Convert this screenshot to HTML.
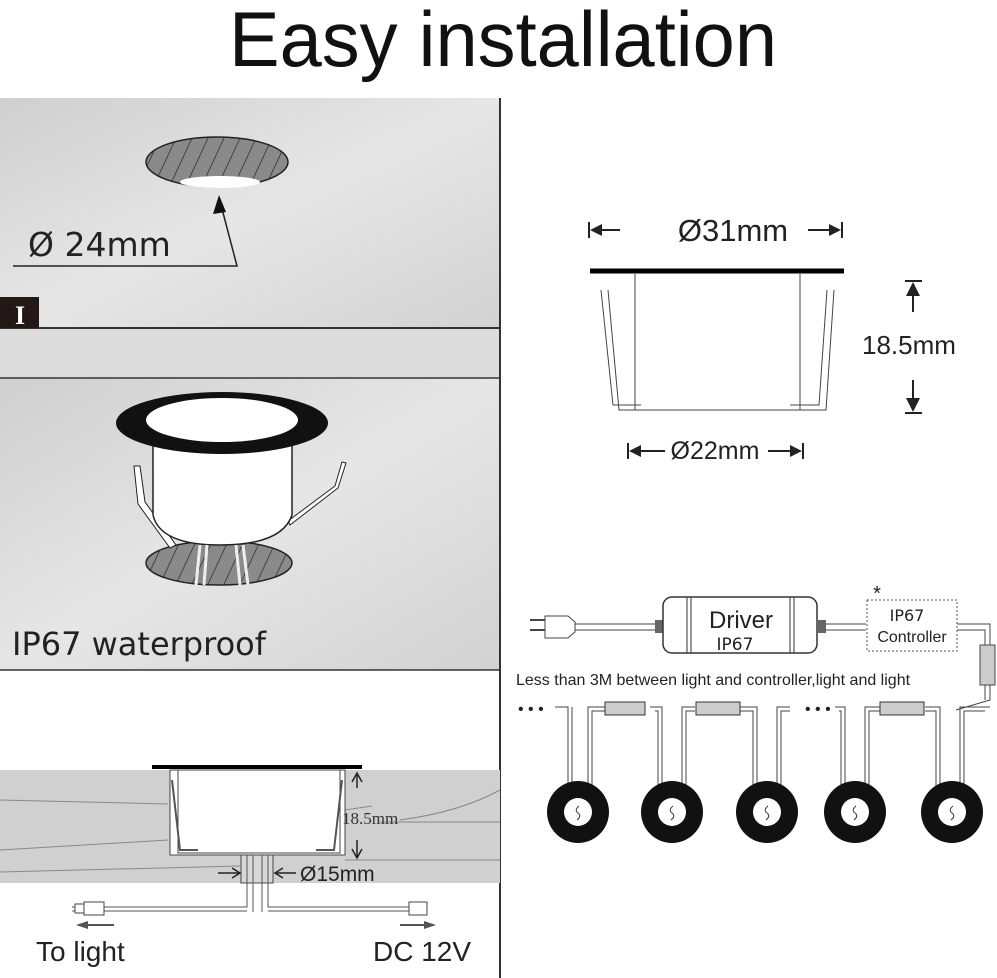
<!DOCTYPE html>
<html><head><meta charset="utf-8"><style>html,body{margin:0;padding:0;background:#fff}svg{display:block}</style></head>
<body>
<svg width="997" height="978" viewBox="0 0 997 978" xmlns="http://www.w3.org/2000/svg">
<defs>
<linearGradient id="g1" x1="0" y1="0" x2="1" y2="1"><stop offset="0" stop-color="#cfcfcf"/><stop offset="0.5" stop-color="#e6e6e6"/><stop offset="1" stop-color="#d2d2d2"/></linearGradient>
<pattern id="hatch" width="16" height="40" patternUnits="userSpaceOnUse" patternTransform="skewX(-25)"><rect width="16" height="40" fill="#8a8a8a"/><line x1="0" y1="0" x2="0" y2="40" stroke="#222" stroke-width="1.5"/></pattern>
</defs>
<text x="503" y="66" font-family="Liberation Sans, sans-serif" font-size="78" text-anchor="middle" textLength="548" lengthAdjust="spacingAndGlyphs" fill="#111">Easy installation</text>
<!-- left panels -->
<rect x="0" y="98" width="500" height="230" fill="url(#g1)"/>
<rect x="0" y="329" width="500" height="49" fill="#dcdcdc"/>
<rect x="0" y="378" width="500" height="292" fill="url(#g1)"/>
<line x1="0" y1="328" x2="500" y2="328" stroke="#333" stroke-width="2"/>
<line x1="0" y1="378" x2="500" y2="378" stroke="#333" stroke-width="1.5"/>
<line x1="0" y1="670" x2="500" y2="670" stroke="#333" stroke-width="1.5"/>
<line x1="500" y1="98" x2="500" y2="978" stroke="#333" stroke-width="2"/>
<!-- hole -->
<ellipse cx="217" cy="162" rx="71" ry="25" fill="url(#hatch)" stroke="#222" stroke-width="1.5"/>
<ellipse cx="220" cy="182" rx="40" ry="6" fill="#fff"/>
<polyline points="13,266 237,266 221,205" fill="none" stroke="#222" stroke-width="1.5"/>
<polygon points="219,195 213,214 226,212" fill="#111"/>
<text x="28" y="256" font-family="DejaVu Sans, sans-serif" font-size="33" fill="#222">Ø 24mm</text>
<rect x="0" y="297" width="39" height="31" fill="#231815"/>
<text x="20" y="324" font-family="Liberation Serif, serif" font-weight="bold" font-size="26" fill="#fff" text-anchor="middle">I</text>
<!-- light -->
<ellipse cx="219" cy="563" rx="73" ry="22" fill="url(#hatch)" stroke="#222" stroke-width="1.5"/>
<path d="M134,466 L140,466 L145,502 L176,545 L170,548 L138,504 Z" fill="#fff" stroke="#222"/>
<path d="M342,462 L346,463 L338,488 L290,525 L288,521 L335,486 Z" fill="#fff" stroke="#222"/>
<path d="M153,445 L153,515 Q160,545 220,545 Q282,545 292,515 L292,445 Z" fill="#fff" stroke="#222" stroke-width="1.5"/>
<path d="M200,545 L196,585 M207,545 L204,585 M236,545 L240,585 M243,545 L248,585" stroke="#eee" stroke-width="3"/>
<ellipse cx="222" cy="423" rx="106" ry="31" fill="#111"/>
<ellipse cx="222" cy="420" rx="76" ry="22" fill="#fff"/>
<text x="12" y="655" font-family="DejaVu Sans, sans-serif" font-size="32" fill="#222">IP67 waterproof</text>
<!-- bottom left -->
<rect x="0" y="770" width="500" height="113" fill="#d0d0d0"/>
<path d="M0,800 L168,804 M0,850 L168,840 M0,872 L240,866 M345,810 L372,806 M400,820 Q460,812 500,790 M380,822 L500,822 M345,860 L500,860" stroke="#888" stroke-width="1" fill="none"/>
<rect x="170" y="770" width="175" height="85" fill="#fff" stroke="#444"/>
<path d="M178,770 L178,853 L340,853 L340,770" fill="none" stroke="#444"/>
<path d="M172,780 L180,850 L198,850" fill="none" stroke="#555" stroke-width="2"/>
<path d="M342,780 L334,850 L316,850" fill="none" stroke="#555" stroke-width="2"/>
<line x1="152" y1="767" x2="362" y2="767" stroke="#000" stroke-width="4"/>
<rect x="241" y="855" width="32" height="28" fill="#d8d8d8" stroke="#444"/>
<path d="M247,855 L247,907 L72,907 M253,855 L253,912 M262,855 L262,912 M268,855 L268,907 L410,907" fill="none" stroke="#555"/>
<path d="M72,911 L247,911 M268,911 L410,911" stroke="#555"/>
<rect x="84" y="902" width="20" height="13" fill="#fff" stroke="#444"/><rect x="75" y="904" width="9" height="9" fill="#fff" stroke="#444"/>
<rect x="409" y="902" width="18" height="13" fill="#fff" stroke="#444"/>
<path d="M78,925 L114,925 M400,925 L434,925" stroke="#555" stroke-width="2"/>
<polygon points="76,925 88,921 88,929" fill="#555"/><polygon points="436,925 424,921 424,929" fill="#555"/>
<path d="M357,775 L357,788 M357,840 L357,858 M218,873 L240,873 M275,873 L296,873" stroke="#222" stroke-width="1.5"/>
<path d="M352,782 L357,773 L362,782 M352,849 L357,858 L362,849 M232,868 L240,873 L232,878 M283,868 L275,873 L283,878" fill="none" stroke="#222" stroke-width="1.5"/>
<text x="342" y="824" font-family="Liberation Serif, serif" font-size="17" fill="#333">18.5mm</text>
<text x="300" y="881" font-family="Liberation Sans, sans-serif" font-size="21" fill="#222">Ø15mm</text>
<text x="36" y="961" font-family="Liberation Sans, sans-serif" font-size="28" fill="#222">To light</text>
<text x="373" y="961" font-family="Liberation Sans, sans-serif" font-size="28" fill="#222">DC 12V</text>
<!-- right top dims -->
<text x="733" y="241" font-family="Liberation Sans, sans-serif" font-size="31" fill="#222" text-anchor="middle">Ø31mm</text>
<path d="M589,222 L589,238 M842,222 L842,238 M593,230 L620,230 M808,230 L836,230" stroke="#222" stroke-width="2"/>
<polygon points="590,230 602,224 602,236" fill="#222"/><polygon points="841,230 829,224 829,236" fill="#222"/>
<line x1="590" y1="271" x2="844" y2="271" stroke="#000" stroke-width="5"/>
<path d="M601,290 L613,405 L641,405 M608,290 L619,410 L826,410 L834,290 M827,290 L819,405 L790,405 M635,274 L635,410 M800,274 L800,410" fill="none" stroke="#444"/>
<path d="M905,281 L922,281 M905,413 L922,413 M913,296 L913,312 M913,380 L913,398" stroke="#222" stroke-width="2"/>
<polygon points="913,282 906,296 920,296" fill="#222"/><polygon points="913,412 906,398 920,398" fill="#222"/>
<text x="862" y="354" font-family="Liberation Sans, sans-serif" font-size="26" fill="#222">18.5mm</text>
<text x="715" y="459" font-family="Liberation Sans, sans-serif" font-size="25" fill="#222" text-anchor="middle">Ø22mm</text>
<path d="M628,443 L628,459 M803,443 L803,459 M632,451 L665,451 M768,451 L798,451" stroke="#222" stroke-width="2"/>
<polygon points="629,451 641,445 641,457" fill="#222"/><polygon points="802,451 790,445 790,457" fill="#222"/>
<!-- wiring -->
<path d="M575,624 L655,624 M575,630 L655,630 M818,624 L866,624 M818,630 L866,630 M956,624 L990,624 L990,700 L956,710 M956,630 L985,630 L985,700" stroke="#444" fill="none"/>
<path d="M530,620 L545,620 M530,630 L545,630" stroke="#444" stroke-width="2"/>
<path d="M545,616 L568,616 L575,622 L575,632 L568,638 L545,638 Z" fill="#fff" stroke="#444"/>
<rect x="655" y="620" width="8" height="13" fill="#666"/><rect x="818" y="620" width="8" height="13" fill="#666"/>
<rect x="663" y="597" width="154" height="56" rx="9" fill="#fff" stroke="#333" stroke-width="1.5"/>
<path d="M687,597 L687,653 M691,597 L691,653 M790,597 L790,653 M794,597 L794,653" stroke="#333"/>
<text x="741" y="628" font-family="Liberation Sans, sans-serif" font-size="24" fill="#222" text-anchor="middle">Driver</text>
<text x="735" y="650" font-family="DejaVu Sans, sans-serif" font-size="17" fill="#222" text-anchor="middle">IP67</text>
<rect x="867" y="600" width="90" height="51" fill="#fff" stroke="#555" stroke-dasharray="2,2"/>
<text x="877" y="600" font-family="Liberation Sans, sans-serif" font-size="20" fill="#222" text-anchor="middle">*</text>
<text x="907" y="621" font-family="DejaVu Sans, sans-serif" font-size="16" fill="#222" text-anchor="middle">IP67</text>
<text x="912" y="642" font-family="Liberation Sans, sans-serif" font-size="16" fill="#222" text-anchor="middle">Controller</text>
<rect x="980" y="645" width="15" height="40" fill="#ccc" stroke="#444"/>
<text x="516" y="685" font-family="Liberation Sans, sans-serif" font-size="16" fill="#222">Less than 3M between light and controller,light and light</text>
<text x="518" y="714" font-family="Liberation Sans, sans-serif" font-size="16" fill="#222">• • •</text>
<text x="805" y="714" font-family="Liberation Sans, sans-serif" font-size="16" fill="#222">• • •</text>
<g fill="none" stroke="#444">
<path d="M555,707 L568,707 L568,790 M572,707 L572,790 M588,790 L588,707 L605,707 M592,790 L592,711 L605,711"/>
<path d="M650,707 L662,707 L662,790 M655,711 L658,711 L658,790 M682,790 L682,707 L695,707 M686,790 L686,711 L695,711"/>
<path d="M740,707 L757,707 L757,790 M740,711 L753,711 L753,790 M777,790 L777,707 L790,707 M781,790 L781,711 L790,711"/>
<path d="M835,707 L845,707 L845,790 M839,711 L841,711 L841,790 M865,790 L865,707 L880,707 M869,790 L869,711 L880,711"/>
<path d="M925,707 L940,707 L940,790 M925,711 L936,711 L936,790 M960,790 L960,707 L990,707 M964,790 L964,711 L985,711"/>
</g>
<g fill="#ccc" stroke="#333">
<rect x="605" y="702" width="40" height="13"/><rect x="696" y="702" width="44" height="13"/><rect x="880" y="702" width="44" height="13"/>
</g>
<g>
<circle cx="578" cy="812" r="31" fill="#111"/><circle cx="578" cy="812" r="14" fill="#fff"/>
<circle cx="672" cy="812" r="31" fill="#111"/><circle cx="672" cy="812" r="14" fill="#fff"/>
<circle cx="767" cy="812" r="31" fill="#111"/><circle cx="767" cy="812" r="14" fill="#fff"/>
<circle cx="855" cy="812" r="31" fill="#111"/><circle cx="855" cy="812" r="14" fill="#fff"/>
<circle cx="952" cy="812" r="31" fill="#111"/><circle cx="952" cy="812" r="14" fill="#fff"/>
</g>
<g fill="none" stroke="#333">
<path d="M579,806 Q574,810 578,813 Q582,816 577,820"/><path d="M673,806 Q668,810 672,813 Q676,816 671,820"/><path d="M768,806 Q763,810 767,813 Q771,816 766,820"/><path d="M856,806 Q851,810 855,813 Q859,816 854,820"/><path d="M953,806 Q948,810 952,813 Q956,816 951,820"/>
</g>
</svg>
</body></html>
